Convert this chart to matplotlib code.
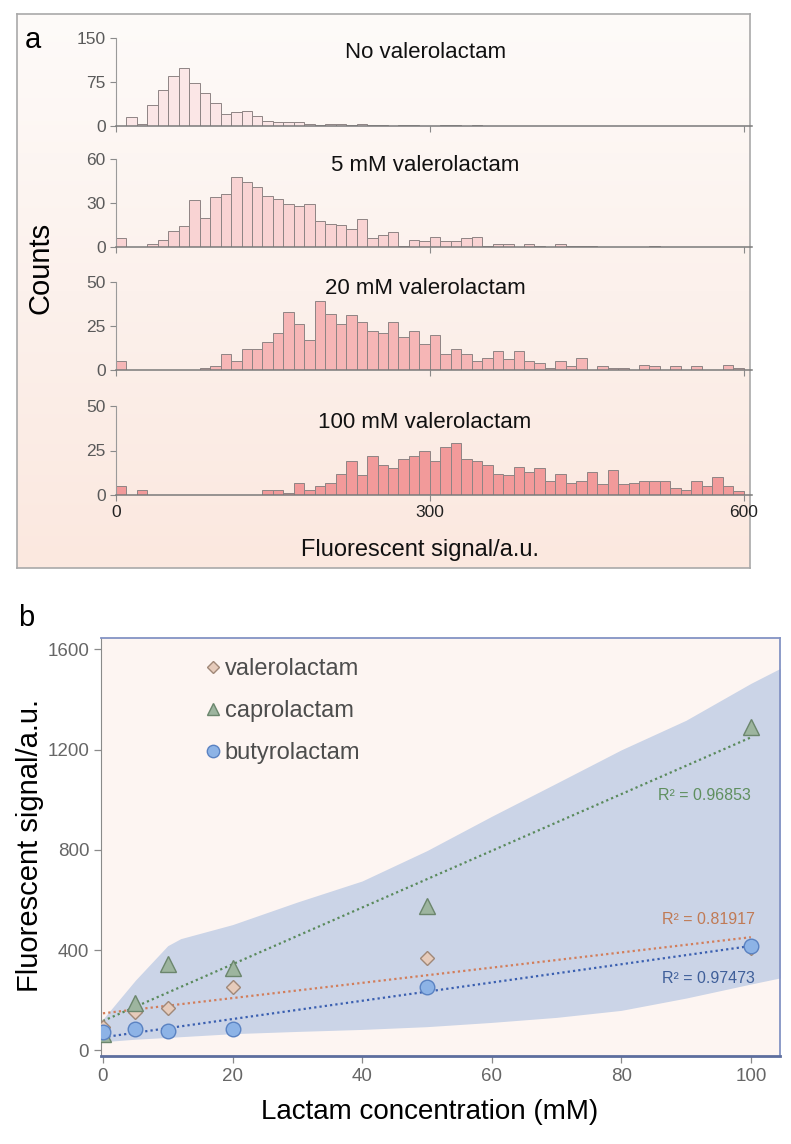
import numpy as np
import matplotlib
matplotlib.use("Agg")
import matplotlib.pyplot as plt
from matplotlib.colors import LinearSegmentedColormap

plt.rcParams['font.family'] = ['Liberation Sans', 'DejaVu Sans']

# ---- panel a: histograms of single-cell fluorescence (bin width 10) ----
bin_edges = np.arange(0, 610, 10)

counts_none = [0, 15, 3, 35, 61, 85, 99, 73, 56, 40,
               20, 24, 25, 17, 8, 7, 6, 7, 4, 2,
               3, 3, 1, 3, 2, 1, 0, 1, 1, 0,
               0, 1, 1, 0, 1, 0, 0, 0, 0, 0,
               0, 0, 0, 0, 0, 0, 0, 0, 0, 0,
               0, 0, 0, 0, 0, 0, 0, 0, 0, 0]
counts_5mM = [6, 0, 0, 2, 5, 11, 14, 32, 20, 34,
              36, 48, 44, 41, 35, 33, 29, 28, 29, 18,
              16, 15, 12, 19, 6, 8, 10, 1, 5, 4,
              7, 4, 4, 6, 7, 1, 2, 2, 0, 2,
              1, 0, 2, 1, 1, 1, 0, 0, 0, 0,
              0, 1, 0, 0, 0, 0, 0, 0, 0, 0]
counts_20mM = [5, 0, 0, 0, 0, 0, 0, 0, 1, 2,
               9, 5, 12, 12, 16, 21, 33, 26, 17, 39,
               32, 26, 31, 27, 22, 21, 27, 19, 22, 15,
               20, 9, 12, 9, 5, 7, 11, 6, 11, 5,
               4, 1, 5, 2, 7, 0, 2, 1, 1, 0,
               3, 2, 0, 2, 0, 2, 0, 0, 3, 1]
counts_100mM = [5, 0, 3, 0, 0, 0, 0, 0, 0, 0,
                0, 0, 0, 0, 3, 3, 1, 7, 3, 5,
                7, 12, 19, 11, 22, 17, 15, 20, 22, 25,
                19, 27, 29, 20, 19, 17, 12, 11, 16, 13,
                15, 8, 12, 7, 8, 13, 6, 14, 6, 7,
                8, 8, 8, 4, 3, 8, 5, 10, 5, 2]

hist_titles = ["No valerolactam", "5 mM valerolactam",
               "20 mM valerolactam", "100 mM valerolactam"]
hist_ymax = [150, 60, 50, 50]
hist_yticks = [[0, 75, 150], [0, 30, 60], [0, 25, 50], [0, 25, 50]]
hist_colors = ["#fbe6e6", "#f9d3d3", "#f6b6b6", "#f29a9a"]

# ---- panel b: signal vs lactam concentration ----
conc = [0, 5, 10, 20, 50, 100]
valerolactam = [95, 155, 168, 255, 368, 410]
caprolactam = [65, 190, 345, 328, 578, 1292]
butyrolactam = [72, 85, 76, 86, 255, 415]
r2_labels = ["R² = 0.81917", "R² = 0.96853", "R² = 0.97473"]

band_x = [0, 5, 10, 12, 20, 30, 40, 50, 60, 70, 80, 90, 100, 105]
band_low = [35, 45, 52, 55, 67, 76, 84, 95, 112, 132, 160, 209, 265, 292]
band_high = [125, 280, 418, 446, 502, 592, 676, 797, 934, 1066, 1199, 1317, 1464, 1530]

W, H = 791, 1144
fig = plt.figure(figsize=(W / 100, H / 100), dpi=100)


def fx(px):
    return px / W


def fy(py):
    return 1 - py / H


# gradient background box for panel a
bg = fig.add_axes([fx(17), fy(568), fx(750 - 17), (568 - 14) / H])
grad_cmap = LinearSegmentedColormap.from_list("bg", ["#fefbf9", "#fcf1ec", "#fbe8df"])
bg.imshow(np.linspace(0, 1, 256).reshape(-1, 1), aspect="auto", cmap=grad_cmap,
          extent=[0, 1, 0, 1])
bg.set_xticks([])
bg.set_yticks([])
for s in bg.spines.values():
    s.set_color("#a9a9a9")
    s.set_linewidth(1.2)

row_tops = [38, 159, 282, 406]
row_bases = [126, 247, 370, 495]
title_y = [0.835, 0.93, 0.93, 0.82]
all_counts = [counts_none, counts_5mM, counts_20mM, counts_100mM]

for i, counts in enumerate(all_counts):
    ax = fig.add_axes([fx(116), fy(row_bases[i]), fx(752 - 116),
                       (row_bases[i] - row_tops[i]) / H])
    ax.patch.set_visible(False)
    ax.bar(bin_edges[:-1], counts, width=10, align="edge", color=hist_colors[i],
           edgecolor="#8e8484", linewidth=0.7)
    ax.set_xlim(0, 608)
    ax.set_ylim(0, hist_ymax[i])
    ax.set_yticks(hist_yticks[i])
    ax.set_xticks([0, 300, 600])
    if i < 3:
        ax.set_xticklabels([])
    ax.tick_params(axis="both", colors="#8a8a8a", labelcolor="#5a5a5a",
                   labelsize=12.5, length=4, width=0.8)
    ax.tick_params(axis="x", labelcolor="#222222")
    for side in ["top", "right"]:
        ax.spines[side].set_visible(False)
    ax.spines["left"].set_color("#9a9a9a")
    ax.spines["bottom"].set_color("#7a7a7a")
    ax.spines["bottom"].set_linewidth(1.1)
    ax.text(0.486, title_y[i], hist_titles[i], transform=ax.transAxes,
            ha="center", va="center", fontsize=16, color="#111111")

fig.text(fx(33), fy(40), "a", fontsize=21, ha="center", va="center")
fig.text(fx(40), fy(268), "Counts", fontsize=21, rotation=90,
         ha="center", va="center")
fig.text(fx(420), fy(550), "Fluorescent signal/a.u.", fontsize=17,
         ha="center", va="center", color="#111111")

# ---- panel b ----
axb = fig.add_axes([fx(101), fy(1056), fx(780 - 101), (1056 - 638) / H])
axb.set_facecolor("#fdf5f2")
axb.fill_between(band_x, band_low, band_high, color="#cbd4e7", lw=0, zorder=0.5)

series = [
    ("valerolactam", valerolactam, "D", 7.5, "#e6cbbb", "#a08878", "#d27d5a", "#c07a55"),
    ("caprolactam", caprolactam, "^", 11, "#9db59f", "#6b866d", "#5a8a5c", "#5f8f5f"),
    ("butyrolactam", butyrolactam, "o", 10.5, "#8db3e6", "#5a82c2", "#3a5fb0", "#3f5f9a"),
]
xfit = np.array([0, 100])
handles = []
for name, vals, mk, ms, fc, ec, lc, tc in series:
    slope, icpt = np.polyfit(conc, vals, 1)
    axb.plot(xfit, slope * xfit + icpt, linestyle=(0, (1, 1.4)), color=lc,
             lw=1.6, zorder=2)
    h, = axb.plot(conc, vals, linestyle="none", marker=mk, ms=ms,
                  markerfacecolor=fc, markeredgecolor=ec, markeredgewidth=1,
                  label=name, zorder=3)
    handles.append(h)

axb.text(92.8, 1015, r2_labels[1], color=series[1][7], fontsize=11.5,
         ha="center", va="center")
axb.text(93.5, 523, r2_labels[0], color=series[0][7], fontsize=11.5,
         ha="center", va="center")
axb.text(93.5, 286, r2_labels[2], color=series[2][7], fontsize=11.5,
         ha="center", va="center")

leg = axb.legend(handles=handles, loc="upper left", bbox_to_anchor=(0.135, 0.975),
                 frameon=False, fontsize=17, handletextpad=0.05,
                 labelspacing=0.85, borderaxespad=0, markerscale=0.85,
                 handlelength=0.9)
for t in leg.get_texts():
    t.set_color("#4d4d4d")

axb.set_xlim(-0.3, 104.5)
axb.set_ylim(-22, 1645)
axb.set_xticks([0, 20, 40, 60, 80, 100])
axb.set_yticks([0, 400, 800, 1200, 1600])
axb.tick_params(axis="both", colors="#8a8a8a", labelcolor="#666666",
                labelsize=13.5, length=5, width=0.9)
axb.spines["top"].set_color("#8393c4")
axb.spines["right"].set_color("#8393c4")
axb.spines["top"].set_linewidth(1.3)
axb.spines["right"].set_linewidth(1.3)
axb.spines["left"].set_color("#8a8a8a")
axb.spines["bottom"].set_color("#5d6e9e")
axb.spines["bottom"].set_linewidth(2)

fig.text(fx(26), fy(618), "b", fontsize=21, ha="center", va="center")
fig.text(fx(30), fy(845), "Fluorescent signal/a.u.", fontsize=21, rotation=90,
         ha="center", va="center")
fig.text(fx(430), fy(1112), "Lactam concentration (mM)", fontsize=20,
         ha="center", va="center")

fig.savefig("out.png", dpi=100)
